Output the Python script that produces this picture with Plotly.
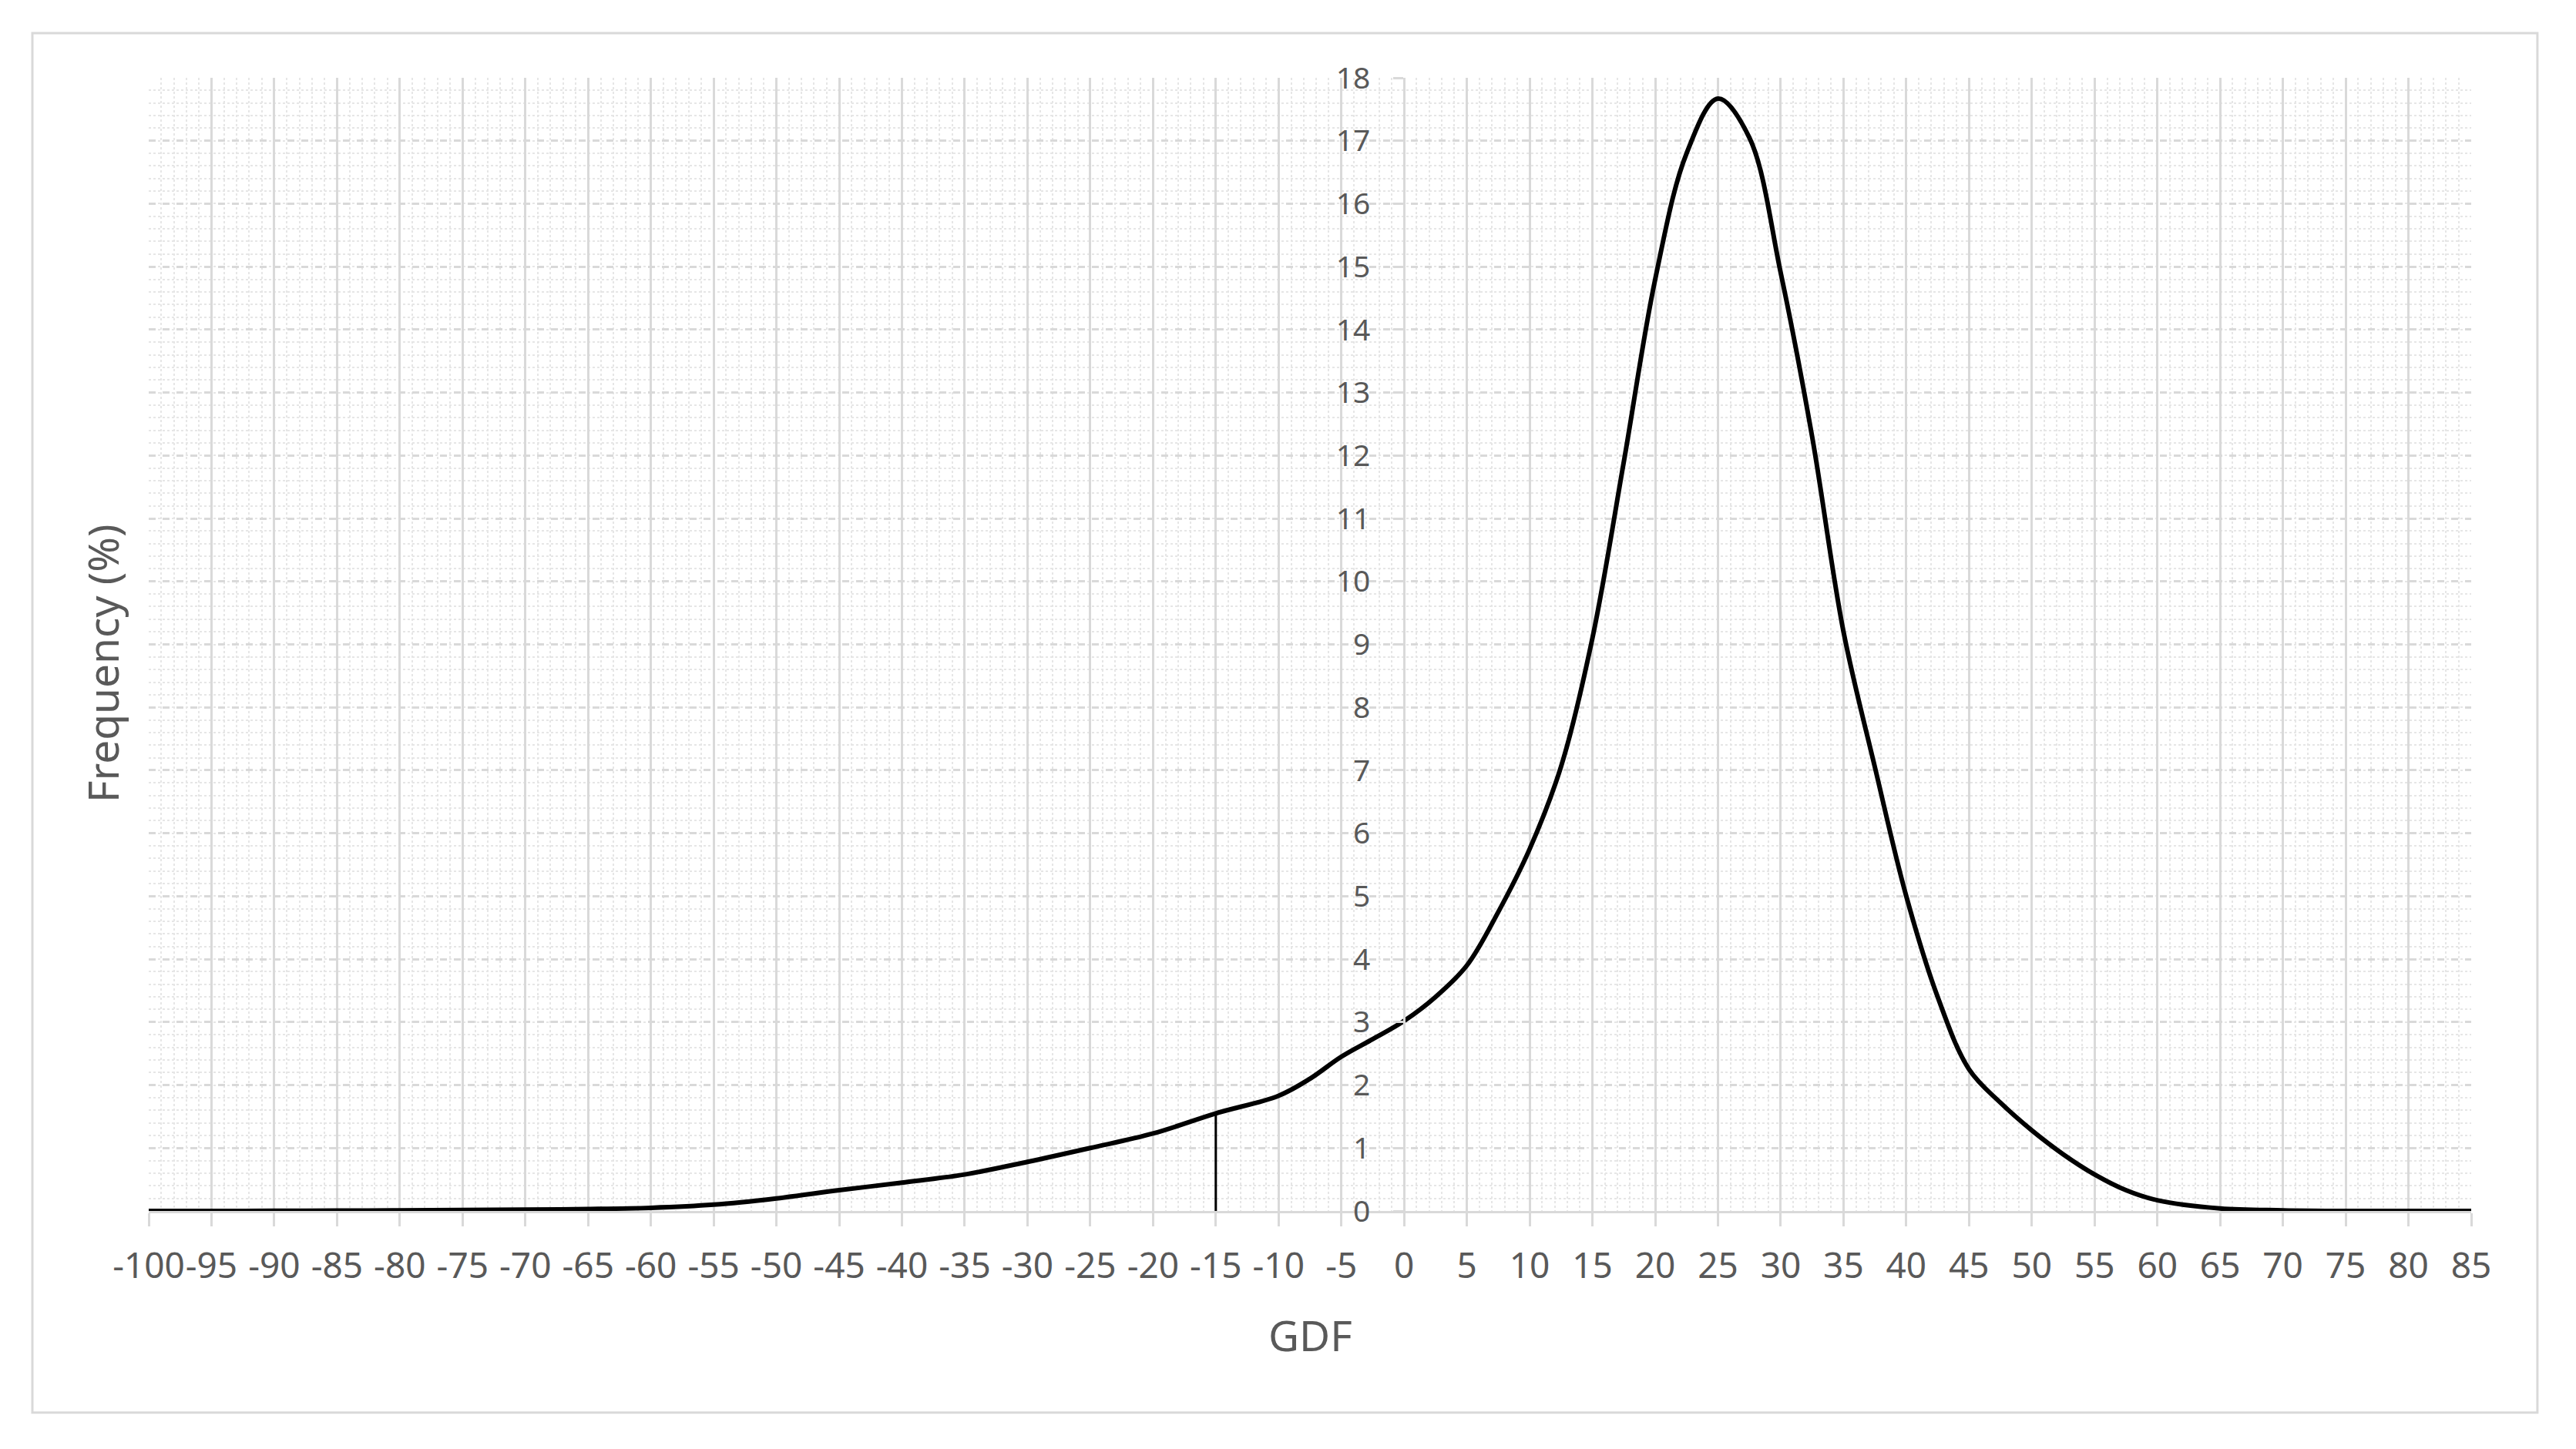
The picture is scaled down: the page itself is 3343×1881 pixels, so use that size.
import plotly.graph_objects as go

# GDF values (x) and frequency (%)
gdf = [-100, -95, -90, -85, -80, -75, -70, -65, -60, -55, -50, -45, -40, -35,
       -30, -25, -20, -15, -10, -7.5, -5, -2.5, 0, 2.5, 5, 7.5, 10, 12.5, 15,
       17.5, 20, 22.5, 25, 27.5, 30, 32.5, 35, 37.5, 40, 42.5, 45, 47.5, 50,
       52.5, 55, 57.5, 60, 65, 70, 75, 80, 85]
freq = [0, 0, 0.002, 0.005, 0.01, 0.015, 0.02, 0.03, 0.05, 0.1, 0.2, 0.33,
        0.45, 0.58, 0.78, 1.0, 1.23, 1.55, 1.83, 2.1, 2.45, 2.73, 3.02, 3.4,
        3.9, 4.75, 5.75, 7.06, 9.1, 11.9, 14.8, 16.8, 17.67, 17.05, 14.9,
        12.3, 9.2, 7.05, 5.0, 3.4, 2.25, 1.72, 1.28, 0.9, 0.58, 0.33, 0.17,
        0.04, 0.01, 0, 0, 0]

# marker line drawn up to the curve
marker_gdf = -15

x_ticks = list(range(-100, 90, 5))
y_ticks = list(range(0, 19))

TEXT = "#595959"
GRID = "#D9D9D9"
MINOR = "#E6E6E6"
FONT = "Noto Sans"

fig = go.Figure()

fig.add_trace(go.Scatter(
    x=gdf, y=freq,
    mode="lines",
    line=dict(color="black", width=6, shape="spline", smoothing=1.0),
    showlegend=False
))

marker_freq = freq[gdf.index(marker_gdf)]
fig.add_trace(go.Scatter(
    x=[marker_gdf, marker_gdf], y=[0, marker_freq],
    mode="lines",
    line=dict(color="black", width=3),
    showlegend=False
))

# page body adds ~8px offset, so margins are shifted to compensate
fig.update_layout(
    width=3343,
    height=1881,
    margin=dict(l=185, r=144, t=93, b=317),
    paper_bgcolor="white",
    plot_bgcolor="white",
    font=dict(family=FONT, color=TEXT),
    xaxis=dict(
        range=[-100, 85],
        tickvals=x_ticks,
        ticktext=[str(v) for v in x_ticks],
        tickangle=0,
        tickfont=dict(size=46, color=TEXT),
        ticks="outside", ticklen=17, tickwidth=3, tickcolor=GRID,
        ticklabelstandoff=12,
        showline=True, linecolor=GRID, linewidth=3,
        showgrid=True, gridcolor=GRID, gridwidth=3,
        zeroline=False,
        minor=dict(dtick=1, showgrid=True, gridcolor=MINOR, gridwidth=2,
                   griddash="dot", ticks=""),
    ),
    yaxis=dict(
        range=[0, 18],
        tickvals=y_ticks,
        tickfont=dict(size=39, color=TEXT),
        anchor="free",
        position=100 / 185,
        side="left",
        ticks="outside", ticklen=13, tickwidth=3, tickcolor=GRID,
        ticklabelstandoff=22,
        showline=True, linecolor=GRID, linewidth=3,
        showgrid=True, gridcolor=GRID, gridwidth=3, griddash="dash",
        zeroline=False,
        minor=dict(dtick=0.2, showgrid=True, gridcolor=MINOR, gridwidth=2,
                   griddash="dot", ticks=""),
    ),
    annotations=[
        dict(text="GDF", xref="paper", yref="paper", x=0.5, y=-0.1088,
             showarrow=False, font=dict(size=55, color=TEXT),
             xanchor="center", yanchor="middle"),
        dict(text="Frequency (%)", xref="paper", yref="paper", x=-0.0199,
             y=0.4827, textangle=-90, showarrow=False,
             font=dict(size=55, color=TEXT),
             xanchor="center", yanchor="middle"),
    ],
    shapes=[
        dict(type="rect", xref="paper", yref="paper",
             x0=-0.0501, x1=1.0285, y0=-0.178, y1=1.0394,
             line=dict(color=GRID, width=3), layer="below"),
    ],
)

fig.write_html("out.html")
